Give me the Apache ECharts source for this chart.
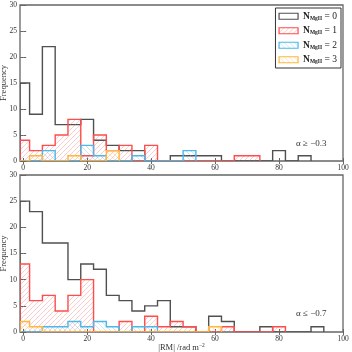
<!DOCTYPE html>
<html>
<head>
<meta charset="utf-8">
<script src="https://cdn.jsdelivr.net/npm/echarts@6/dist/echarts.min.js"></script>
<style>
html, body { margin: 0; padding: 0; background: #fff; }
#main { width: 352px; height: 352px; }
</style>
</head>
<body>
<div id="main"></div>
<script>
// histogram bins: 4 wide, first edge at -2
var binStart = -2;
var binWidth = 4;
var xMin = -1, xMax = 100;
var xTicks = [0, 20, 40, 60, 80, 100];
var groupNames = ['N0', 'N1', 'N2', 'N3'];

// alpha >= -0.3 (top panel)
var topN0 = [15, 9, 22, 7, 7, 8, 4, 3, 2, 2, 0, 0, 1, 1, 1, 1, 0, 0, 0, 0, 2, 0, 1, 0, 0];
var topN1 = [4, 2, 3, 5, 8, 1, 5, 2, 3, 0, 3, 0, 0, 0, 0, 0, 0, 1, 1, 0, 0, 0, 0, 0, 0];
var topN2 = [0, 0, 2, 0, 0, 3, 1, 0, 0, 1, 0, 0, 0, 2, 0, 0, 0, 0, 0, 0, 0, 0, 0, 0, 0];
var topN3 = [0, 1, 0, 0, 1, 0, 0, 2, 0, 0, 0, 0, 0, 0, 0, 0, 0, 0, 0, 0, 0, 0, 0, 0, 0];

// alpha <= -0.7 (bottom panel)
var botN0 = [25, 23, 17, 17, 10, 13, 12, 7, 6, 4, 5, 6, 1, 1, 0, 3, 2, 0, 0, 1, 0, 0, 0, 1, 0];
var botN1 = [13, 6, 7, 4, 7, 10, 0, 0, 2, 0, 3, 1, 2, 1, 0, 0, 1, 0, 0, 0, 1, 0, 0, 0, 0];
var botN2 = [0, 0, 1, 1, 2, 1, 2, 1, 0, 1, 1, 0, 0, 0, 0, 0, 0, 0, 0, 0, 0, 0, 0, 0, 0];
var botN3 = [2, 1, 0, 0, 0, 0, 0, 0, 0, 0, 0, 0, 0, 0, 0, 1, 0, 0, 0, 0, 0, 0, 0, 0, 0];

var SERIF = "'Liberation Serif', 'DejaVu Serif', serif";
var lineCols = ['#505050', '#ff4c4c', '#4cb8ea', '#ffb73d'];
var hatchCols = ['', 'rgba(255,90,90,0.35)', 'rgba(80,180,235,0.35)', 'rgba(255,185,70,0.4)'];
var hatchDir = ['', '/', '\\', '\\'];

function makeHatch(color, dir) {
  if (!color) return '#fff';
  var s = 5;
  var c = document.createElement('canvas');
  c.width = s; c.height = s;
  var g = c.getContext('2d');
  g.strokeStyle = color;
  g.lineWidth = 0.9;
  g.beginPath();
  if (dir === '/') {
    g.moveTo(-1, s + 1); g.lineTo(s + 1, -1);
    g.moveTo(-1, 1); g.lineTo(1, -1);
    g.moveTo(s - 1, s + 1); g.lineTo(s + 1, s - 1);
  } else {
    g.moveTo(-1, -1); g.lineTo(s + 1, s + 1);
    g.moveTo(s - 1, -1); g.lineTo(s + 1, 1);
    g.moveTo(-1, s - 1); g.lineTo(1, s + 1);
  }
  g.stroke();
  return { image: c, repeat: 'repeat' };
}
var hatches = hatchCols.map(function (c, i) { return makeHatch(c, hatchDir[i]); });

// step outline of a histogram in data coordinates
function stepPoints(counts) {
  var last = counts.length - 1;
  while (last > 0 && counts[last] === 0) last--;
  var pts = [[Math.max(binStart, xMin), 0]];
  for (var i = 0; i <= last; i++) {
    var a = Math.max(binStart + i * binWidth, xMin);
    var b = binStart + (i + 1) * binWidth;
    pts.push([a, counts[i]], [b, counts[i]]);
  }
  pts.push([binStart + (last + 1) * binWidth, 0]);
  return pts;
}

function histSeries(name, k, counts, axisIdx) {
  return {
    type: 'custom',
    name: name,
    xAxisIndex: axisIdx,
    yAxisIndex: axisIdx,
    z: 2 + k,
    clip: true,
    silent: true,
    itemStyle: { color: hatches[k], borderColor: lineCols[k], borderWidth: 1.2 },
    data: [[0, 0]],
    renderItem: function (params, api) {
      var pts = stepPoints(counts).map(function (p) { return api.coord(p); });
      var kids = [];
      if (k > 0) {
        kids.push({ type: 'polygon', shape: { points: pts }, style: { fill: hatches[k] } });
      }
      kids.push({ type: 'polyline', shape: { points: pts },
        style: { stroke: lineCols[k], lineWidth: 1.4, fill: null } });
      return { type: 'group', children: kids };
    }
  };
}

function xAx(grid, pos, labels) {
  return {
    type: 'value', gridIndex: grid, position: pos, min: xMin, max: xMax,
    axisLine: { show: false },
    splitLine: { show: false },
    axisTick: { inside: true, length: 3, customValues: xTicks, lineStyle: { color: '#666' } },
    axisLabel: { show: labels, customValues: xTicks, fontFamily: SERIF, fontSize: 7.5, color: '#333', margin: 3 }
  };
}
function yAx(grid, pos, labels) {
  return {
    type: 'value', gridIndex: grid, position: pos, min: 0, max: 30, interval: 5,
    name: labels ? 'Frequency' : '', nameLocation: 'middle', nameGap: 11.5, nameRotate: 90,
    nameMoveOverlap: false,
    nameTextStyle: { fontFamily: SERIF, fontSize: 8.5, color: '#333' },
    axisLine: { show: false },
    splitLine: { show: false },
    axisTick: { inside: true, length: 3, lineStyle: { color: '#666' } },
    axisLabel: { show: labels, fontFamily: SERIF, fontSize: 7.5, color: '#333', margin: 3 }
  };
}

var botX = xAx(1, 'bottom', true);
botX.name = '|RM| /rad m{sup|\u22122}';
botX.nameLocation = 'middle';
botX.nameGap = 11;
botX.nameMoveOverlap = false;
botX.nameTextStyle = { fontFamily: SERIF, fontSize: 8.5, color: '#333',
  rich: { sup: { fontFamily: SERIF, fontSize: 5.5, color: '#333', verticalAlign: 'top', padding: [0, 0, 4, 0] } } };

var series = [];
[topN0, topN1, topN2, topN3].forEach(function (c, k) { series.push(histSeries(groupNames[k], k, c, 0)); });
[botN0, botN1, botN2, botN3].forEach(function (c, k) { series.push(histSeries(groupNames[k], k, c, 2)); });

var chart = echarts.init(document.getElementById('main'));
chart.setOption({
  animation: false,
  backgroundColor: '#fff',
  grid: [
    { left: 20, top: 5, width: 323, height: 156, show: true, borderColor: '#666', borderWidth: 1.3,
      backgroundColor: 'transparent', outerBoundsMode: 'none', containLabel: false },
    { left: 20, top: 175, width: 323, height: 157, show: true, borderColor: '#666', borderWidth: 1.3,
      backgroundColor: 'transparent', outerBoundsMode: 'none', containLabel: false }
  ],
  xAxis: [xAx(0, 'bottom', true), xAx(0, 'top', false), botX, xAx(1, 'top', false)],
  yAxis: [yAx(0, 'left', true), yAx(0, 'right', false), yAx(1, 'left', true), yAx(1, 'right', false)],
  legend: {
    orient: 'vertical', right: 11, top: 8,
    selectedMode: false,
    itemWidth: 19, itemHeight: 6, itemGap: 4,
    borderColor: '#333', borderWidth: 1, padding: [3, 4, 3, 3],
    backgroundColor: '#fff',
    data: groupNames.map(function (n, k) {
      return { name: n, icon: 'rect',
        itemStyle: { color: hatches[k], borderColor: lineCols[k], borderWidth: 1.2 } };
    }),
    formatter: function (n) { return '{b|N}{s|MgII}{t| = ' + n.slice(1) + '}'; },
    textStyle: {
      fontFamily: SERIF, fontSize: 9.5, color: '#222', lineHeight: 10.5,
      rich: {
        b: { fontFamily: SERIF, fontSize: 9.5, fontWeight: 'bold', color: '#222' },
        s: { fontFamily: SERIF, fontSize: 5.5, fontWeight: 'bold', color: '#222', verticalAlign: 'bottom', padding: [3, 0, 0, 0] },
        t: { fontFamily: SERIF, fontSize: 9.5, color: '#222' }
      }
    }
  },
  graphic: [
    { type: 'text', left: 296, top: 139, style: { text: '\u03b1 \u2265 \u22120.3', fontFamily: SERIF, fontSize: 9, fill: '#333' } },
    { type: 'text', left: 296, top: 309, style: { text: '\u03b1 \u2264 \u22120.7', fontFamily: SERIF, fontSize: 9, fill: '#333' } }
  ],
  series: series
});
</script>
</body>
</html>
